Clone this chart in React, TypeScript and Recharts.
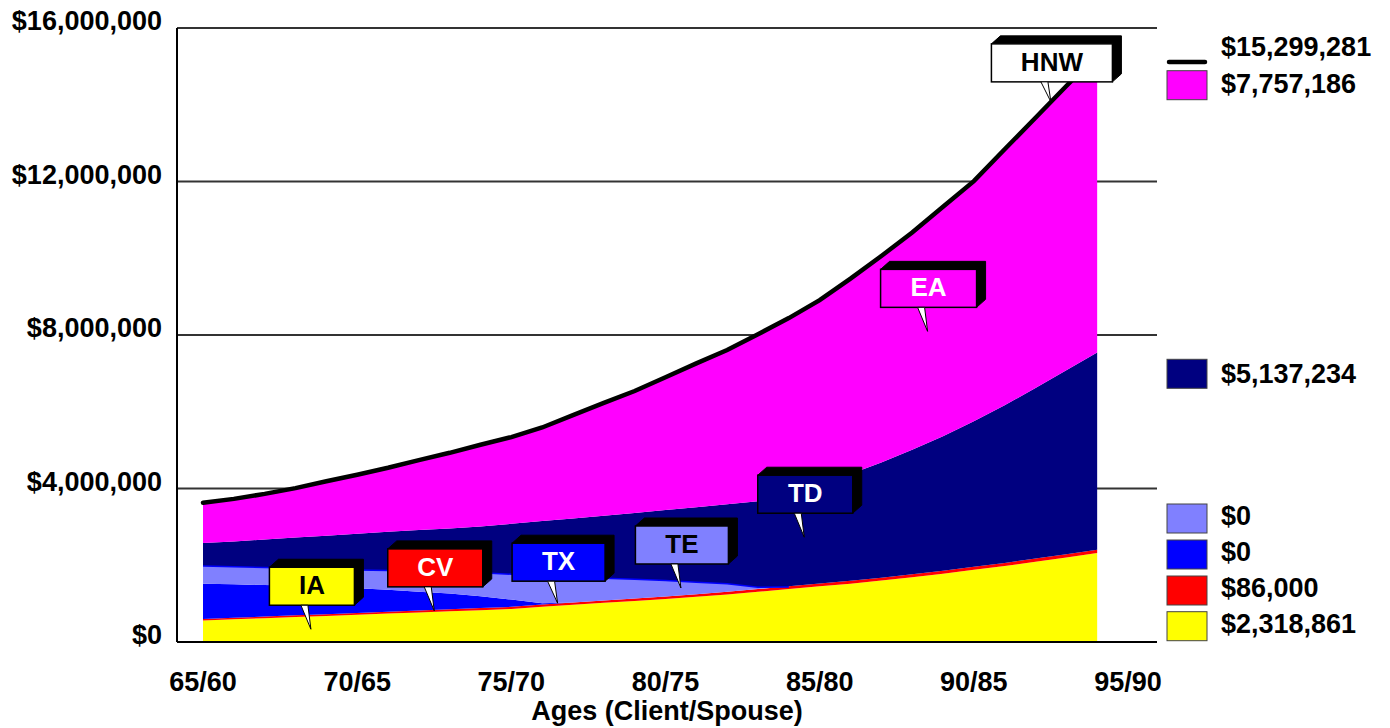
import React from 'react';
import {
  ComposedChart,
  Area,
  Line,
  XAxis,
  YAxis,
  CartesianGrid,
  ReferenceDot,
} from 'recharts';

// Client age for each projection year (spouse is five years younger)
const clientAges = [
  65, 66, 67, 68, 69, 70, 71, 72, 73, 74, 75, 76, 77, 78, 79,
  80, 81, 82, 83, 84, 85, 86, 87, 88, 89, 90, 91, 92, 93, 94,
];

const tickAges = [65, 70, 75, 80, 85, 90, 95];
const tickLabels = ['65/60', '70/65', '75/70', '80/75', '85/80', '90/85', '95/90'];
const yTicks = [0, 4000000, 8000000, 12000000, 16000000];

// IA – income assets
const iaValues = [
  560000, 590000, 620000, 650000, 680000, 710000, 740000, 770000, 800000, 830000,
  860000, 920000, 970000, 1020000, 1070000, 1120000, 1180000, 1240000, 1310000, 1380000,
  1450000, 1520000, 1600000, 1690000, 1780000, 1880000, 1980000, 2090000, 2200000, 2318861,
];
// CV – cash value
const cvValues = [
  40000, 42000, 43000, 45000, 46000, 48000, 50000, 51000, 53000, 54000,
  56000, 58000, 59000, 61000, 63000, 64000, 66000, 68000, 69000, 71000,
  72000, 74000, 75000, 77000, 78000, 80000, 81000, 83000, 84000, 86000,
];
// TX – taxable (spent down, nothing left after age 77)
const txValues: (number | null)[] = [
  920000, 870000, 820000, 770000, 710000, 640000, 570000, 490000, 410000, 310000,
  190000, 30000, 0, null, null, null, null, null, null, null,
  null, null, null, null, null, null, null, null, null, null,
];
// TE – tax exempt (spent down, nothing left after age 84)
const teValues: (number | null)[] = [
  480000, 480000, 480000, 480000, 480000, 500000, 520000, 550000, 580000, 630000,
  680000, 730000, 690000, 600000, 520000, 440000, 330000, 230000, 70000, 0,
  null, null, null, null, null, null, null, null, null, null,
];
// TD – tax deferred
const tdValues = [
  580000, 638000, 707000, 775000, 854000, 922000, 990000, 1059000, 1117000, 1186000,
  1294000, 1412000, 1501000, 1609000, 1707000, 1816000, 1934000, 2052000, 2221000, 2399000,
  2578000, 2786000, 3005000, 3243000, 3502000, 3790000, 4109000, 4447000, 4796000, 5137234,
];
// EA – estate assets
const eaValues = [
  1050000, 1110000, 1190000, 1290000, 1420000, 1540000, 1670000, 1820000, 1970000, 2130000,
  2260000, 2440000, 2690000, 2940000, 3180000, 3460000, 3750000, 4020000, 4350000, 4590000,
  4810000, 5090000, 5380000, 5660000, 5980000, 6260000, 6670000, 7040000, 7410000, 7757186,
];

const FONT = '"Liberation Sans", Arial, Helvetica, sans-serif';

type Row = {
  age: number;
  ia: number;
  cv: number;
  tx: number | null;
  te: number | null;
  td: number;
  ea: number;
  total: number;
};

const stackKeys = ['ia', 'cv', 'tx', 'te', 'td', 'ea'] as const;

const rows: Row[] = clientAges.map((age, i) => ({
  age,
  ia: iaValues[i],
  cv: cvValues[i],
  tx: txValues[i],
  te: teValues[i],
  td: tdValues[i],
  ea: eaValues[i],
  total:
    iaValues[i] + cvValues[i] + (txValues[i] ?? 0) + (teValues[i] ?? 0) + tdValues[i] + eaValues[i],
}));

const fmtMoney = (v: number) => '$' + Math.round(v).toLocaleString('en-US');
const lastOf = (arr: (number | null)[]) => arr[arr.length - 1] ?? 0;

// cumulative stack height through the first n layers, interpolated between years
const cumAt = (age: number, n: number) => {
  const pos = age - clientAges[0];
  const i = Math.min(Math.floor(pos), rows.length - 2);
  const f = pos - i;
  const sum = (j: number) =>
    stackKeys.slice(0, n).reduce((s, k) => s + ((rows[j][k] as number | null) ?? 0), 0);
  return sum(i) * (1 - f) + sum(i + 1) * f;
};

type CalloutDef = {
  text: string;
  age: number;
  layer: number; // index into stackKeys, -1 = total line
  fill: string;
  color: string;
  width: number;
  gap: number;
};

const callouts: CalloutDef[] = [
  { text: 'IA', age: 68.5, layer: 0, fill: '#ffff00', color: '#000', width: 85, gap: 24 },
  { text: 'CV', age: 72.5, layer: 1, fill: '#ff0000', color: '#fff', width: 95, gap: 24 },
  { text: 'TX', age: 76.5, layer: 2, fill: '#0000ff', color: '#fff', width: 93, gap: 22 },
  { text: 'TE', age: 80.5, layer: 3, fill: '#8080ff', color: '#000', width: 93, gap: 24 },
  { text: 'TD', age: 84.5, layer: 4, fill: '#000080', color: '#fff', width: 95, gap: 24 },
  { text: 'EA', age: 88.5, layer: 5, fill: '#ff00ff', color: '#fff', width: 96, gap: 24 },
  { text: 'HNW', age: 92.5, layer: -1, fill: '#ffffff', color: '#000', width: 121, gap: 20 },
];

const calloutY = (c: CalloutDef) =>
  c.layer < 0 ? cumAt(c.age, 6) : (cumAt(c.age, c.layer) + cumAt(c.age, c.layer + 1)) / 2;

const CalloutShape = (props: any) => {
  const { cx, cy, def } = props as { cx: number; cy: number; def: CalloutDef };
  if (cx == null || cy == null) return null;
  const h = 38;
  const dx = 9;
  const dy = 8;
  const left = cx + 1 - def.width / 2;
  const right = left + def.width;
  const bottom = cy - def.gap;
  const top = bottom - h;
  return (
    <g>
      <polygon
        points={`${left},${top} ${left + dx},${top - dy} ${right + dx},${top - dy} ${right + dx},${bottom - dy} ${right},${bottom} ${right},${top}`}
        fill="#000"
        stroke="#000"
        strokeWidth={1}
      />
      <rect x={left} y={top} width={def.width} height={h} fill={def.fill} stroke="#000" strokeWidth={1.5} />
      <polygon
        points={`${cx - 10},${bottom} ${cx - 3},${bottom} ${cx},${cy}`}
        fill="#fff"
        stroke="#000"
        strokeWidth={1}
      />
      <text
        x={(left + right) / 2}
        y={top + 27}
        textAnchor="middle"
        fontFamily={FONT}
        fontWeight="bold"
        fontSize={26}
        fill={def.color}
      >
        {def.text}
      </text>
    </g>
  );
};

const XTick = (props: any) => {
  const { x, y, payload } = props;
  const idx = tickAges.indexOf(payload.value);
  return (
    <text x={x} y={y + 49} textAnchor="middle" fontFamily={FONT} fontWeight="bold" fontSize={27} fill="#000">
      {idx >= 0 ? tickLabels[idx] : payload.value}
    </text>
  );
};

const YTick = (props: any) => {
  const { x, y, payload } = props;
  return (
    <text x={x} y={y + 2} textAnchor="end" fontFamily={FONT} fontWeight="bold" fontSize={27} fill="#000">
      {fmtMoney(payload.value)}
    </text>
  );
};

const XTitle = (props: any) => {
  const vb = props.viewBox || {};
  return (
    <text
      x={vb.x + vb.width / 2}
      y={vb.y + 78}
      textAnchor="middle"
      fontFamily={FONT}
      fontWeight="bold"
      fontSize={27}
      fill="#000"
    >
      Ages (Client/Spouse)
    </text>
  );
};

const legendItems = [
  { kind: 'line', color: '#000', value: rows[rows.length - 1].total, y: 62, base: 56 },
  { kind: 'box', color: '#ff00ff', value: lastOf(eaValues), y: 70.7, base: 93.3 },
  { kind: 'box', color: '#000080', value: lastOf(tdValues), y: 359.3, base: 382.7 },
  { kind: 'box', color: '#8080ff', value: lastOf(teValues), y: 504, base: 525 },
  { kind: 'box', color: '#0000ff', value: lastOf(txValues), y: 540, base: 561 },
  { kind: 'box', color: '#ff0000', value: lastOf(cvValues), y: 576, base: 597 },
  { kind: 'box', color: '#ffff00', value: lastOf(iaValues), y: 611.7, base: 632.7 },
];

const W = 1374;
const H = 728;

export default function App() {
  return (
    <div style={{ position: 'relative', width: W, height: H, marginTop: -8 }}>
      <ComposedChart
        width={W}
        height={H}
        data={rows}
        margin={{ top: 28, right: 225, bottom: 0, left: 9 }}
      >
        <CartesianGrid vertical={false} stroke="#333" strokeWidth={2} />
        <XAxis
          dataKey="age"
          type="number"
          domain={[65, 95]}
          ticks={tickAges}
          interval={0}
          padding={{ left: 26, right: 29 }}
          tickLine={false}
          tickSize={0}
          tickMargin={0}
          axisLine={{ stroke: '#000', strokeWidth: 2 }}
          height={86}
          tick={<XTick />}
          label={XTitle}
        />
        <XAxis
          xAxisId="frame"
          orientation="top"
          dataKey="age"
          type="number"
          domain={[65, 95]}
          height={0}
          tick={false}
          tickLine={false}
          axisLine={{ stroke: '#000', strokeWidth: 2 }}
        />
        <YAxis
          type="number"
          domain={[0, 16000000]}
          ticks={yTicks}
          interval={0}
          width={160}
          tickLine={false}
          tickSize={0}
          tickMargin={15}
          axisLine={{ stroke: '#000', strokeWidth: 2 }}
          tick={<YTick />}
        />
        <YAxis
          yAxisId="frame"
          orientation="right"
          type="number"
          domain={[0, 16000000]}
          width={0}
          tick={false}
          tickLine={false}
          axisLine={{ stroke: '#000', strokeWidth: 2 }}
        />
        <Area type="linear" dataKey="ia" stackId="1" fill="#ffff00" fillOpacity={1} stroke="none" isAnimationActive={false} />
        <Area type="linear" dataKey="cv" stackId="1" fill="#ff0000" fillOpacity={1} stroke="none" isAnimationActive={false} />
        <Area type="linear" dataKey="tx" stackId="1" fill="#0000ff" fillOpacity={1} stroke="none" isAnimationActive={false} />
        <Area type="linear" dataKey="te" stackId="1" fill="#8080ff" fillOpacity={1} stroke="#0000ff" strokeWidth={3} isAnimationActive={false} />
        <Area type="linear" dataKey="td" stackId="1" fill="#000080" fillOpacity={1} stroke="none" isAnimationActive={false} />
        <Area type="linear" dataKey="ea" stackId="1" fill="#ff00ff" fillOpacity={1} stroke="none" isAnimationActive={false} />
        <Line
          type="linear"
          dataKey="total"
          stroke="#000"
          strokeWidth={4.5}
          strokeLinecap="round"
          dot={false}
          activeDot={false}
          isAnimationActive={false}
        />
        {callouts.map((c) => (
          <ReferenceDot
            key={c.text}
            x={c.age}
            y={calloutY(c)}
            r={0}
            ifOverflow="visible"
            shape={(p: any) => <CalloutShape {...p} def={c} />}
          />
        ))}
      </ComposedChart>
      <svg
        width={W}
        height={H}
        style={{ position: 'absolute', left: 0, top: 0, pointerEvents: 'none' }}
      >
        {legendItems.map((it, i) => (
          <g key={i}>
            {it.kind === 'line' ? (
              <line x1={1161} x2={1197} y1={it.y} y2={it.y} stroke={it.color} strokeWidth={4.5} strokeLinecap="round" />
            ) : (
              <rect x={1159} y={it.y} width={40} height={29} fill={it.color} stroke="#444" strokeWidth={1} />
            )}
            <text x={1213} y={it.base} fontFamily={FONT} fontWeight="bold" fontSize={27} fill="#000">
              {fmtMoney(it.value)}
            </text>
          </g>
        ))}
      </svg>
    </div>
  );
}
